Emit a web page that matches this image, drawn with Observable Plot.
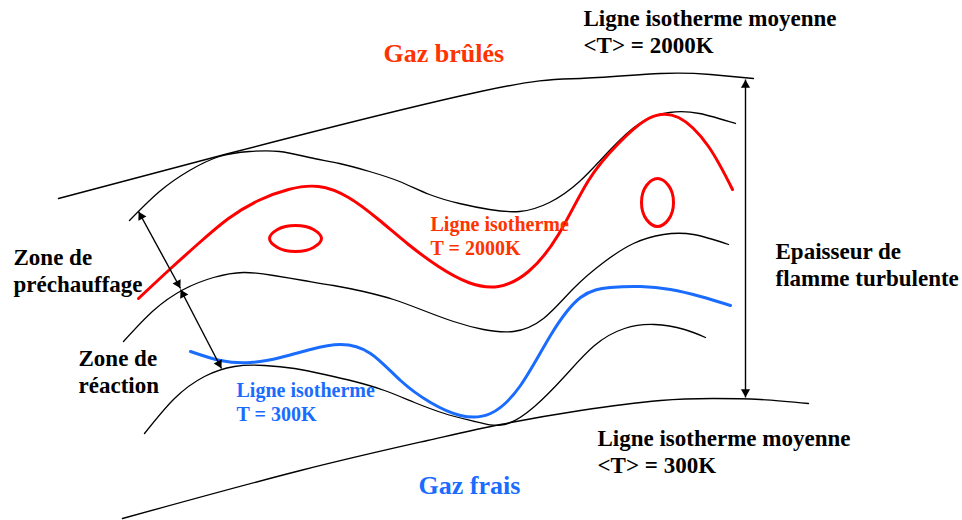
<!DOCTYPE html>
<html>
<head>
<meta charset="utf-8">
<script src="https://cdn.jsdelivr.net/npm/d3@7"></script>
<script src="https://cdn.jsdelivr.net/npm/@observablehq/plot@0.6"></script>
<style>
  html, body { margin: 0; padding: 0; background: #fff; }
  #chart svg { display: block; }
</style>
</head>
<body>
<div id="chart"></div>
<script>
// Diagram coordinates (x right, y down, in picture units)
const meanTop = [[58,198],[228,153],[480,91],[580,78],[660,73],[710,74],[753,78]];
const upperBlack = [[129,220],[159,191],[189,170],[219,156],[249,151],[279,151],[309,157],[339,163],[369,171],[399,181],[429,194],[459,203],[489,209],[519,211],[549,202],[579,181],[609,150],[639,123],[669,112],[699,113],[735,123]];
const red2000 = [[138,298],[168,270],[198,243],[228,218],[258,200],[288,189],[318,186],[348,197],[378,219],[408,244],[438,266],[468,282],[498,286],[528,271],[558,234],[588,180],[618,143],[648,118],[678,117],[708,146],[732,189]];
const middleBlack = [[123,341],[153,310],[183,289],[213,277],[243,272],[273,275],[303,280],[333,285],[363,291],[393,299],[423,310],[453,321],[483,329],[513,331],[543,318],[573,288],[603,262],[633,243],[663,234],[693,234],[728,244]];
const blue300 = [[190,351],[220,360],[250,362],[280,357],[310,349],[340,344],[370,353],[400,380],[430,402],[460,415],[490,413],[520,385],[550,335],[580,297],[610,287],[640,286],[670,289],[700,296],[730,305]];
const lowerBlack = [[144,433],[174,398],[204,376],[234,366],[264,365],[294,368],[324,374],[354,381],[384,390],[414,402],[444,413],[474,421],[504,424],[534,406],[564,376],[594,345],[624,328],[654,324],[684,329],[705,337]];
const meanBottom = [[122,518],[300,470],[427,440],[500,424],[580,410],[660,400],[713,398],[760,399],[808,403]];
const pocket1 = [[321,238],[313,247],[295,251],[277,247],[269,238],[277,229],[295,225],[313,229]];
const pocket2 = [[657,178],[668,185],[673,202],[668,219],[657,226],[646,219],[641,202],[646,185]];

// Double-headed arrows: [x1, y1, x2, y2]
const arrows = [[138,211,180,288],[180,289,221,368],[745,79,745,397]];

// Labels: text, x, baseline y, group
const labels = [
  ["Gaz brûlés", 383, 61, "burnt"],
  ["Gaz frais", 418, 493, "fresh"],
  ["Ligne isotherme moyenne", 583, 25, "black"],
  ["<T> = 2000K", 583, 52, "black"],
  ["Ligne isotherme moyenne", 597, 445, "black"],
  ["<T> = 300K", 597, 472, "black"],
  ["Zone de", 13, 264, "black"],
  ["préchauffage", 13, 291, "black"],
  ["Zone de", 78, 365, "black"],
  ["réaction", 78, 392, "black"],
  ["Epaisseur de", 775, 258, "black"],
  ["flamme turbulente", 775, 285, "black"],
  ["Ligne isotherme", 430, 230, "red"],
  ["T = 2000K", 430, 254, "red"],
  ["Ligne isotherme", 236, 396, "blue"],
  ["T = 300K", 236, 420, "blue"]
];

const RED = "#ff0000", REDTXT = "#ff3300", BLUE = "#1a6cff";
const font = "'Liberation Serif', 'Times New Roman', Times, serif";

const line = (pts, stroke, sw, curve = "natural") =>
  Plot.line(pts, {x: d => d[0], y: d => d[1], stroke, strokeWidth: sw, curve});

// one shaft per arrow, one filled head at each end
const heads = arrows.flatMap(([x1, y1, x2, y2]) => {
  const len = Math.hypot(x2 - x1, y2 - y1), ux = (x2 - x1) / len, uy = (y2 - y1) / len;
  const ang = Math.atan2(ux, -uy) * 180 / Math.PI, off = 5.5;
  return [
    {x: x2 - ux * off, y: y2 - uy * off, rot: ang},
    {x: x1 + ux * off, y: y1 + uy * off, rot: ang + 180}
  ];
});

const txt = (group, fill, size) =>
  Plot.text(labels.filter(d => d[3] === group), {
    x: d => d[1], y: d => d[2], text: d => d[0],
    textAnchor: "start", lineAnchor: "bottom",
    fill, fontSize: size, fontWeight: "bold", fontFamily: font
  });

const chart = Plot.plot({
  width: 962, height: 520,
  margin: 0,
  x: {domain: [0, 962], axis: null},
  y: {domain: [0, 520], reverse: true, axis: null},
  style: {background: "#fff", fontFamily: font},
  marks: [
    line(meanTop, "black", 1.4),
    line(upperBlack, "black", 1.3),
    line(middleBlack, "black", 1.3),
    line(lowerBlack, "black", 1.3),
    line(meanBottom, "black", 1.4),
    line(red2000, RED, 3),
    line(blue300, BLUE, 3),
    line(pocket1, RED, 3, "catmull-rom-closed"),
    line(pocket2, RED, 3, "catmull-rom-closed"),
    Plot.link(arrows, {x1: d => d[0], y1: d => d[1], x2: d => d[2], y2: d => d[3], stroke: "black", strokeWidth: 1.4}),
    Plot.dot(heads, {x: "x", y: "y", rotate: "rot", symbol: "triangle", r: 3.4, fill: "black", stroke: "none"}),
    txt("black", "black", 23),
    txt("burnt", REDTXT, 26),
    txt("fresh", BLUE, 26),
    txt("red", REDTXT, 20),
    txt("blue", BLUE, 20)
  ]
});
document.getElementById("chart").appendChild(chart);
</script>
</body>
</html>
